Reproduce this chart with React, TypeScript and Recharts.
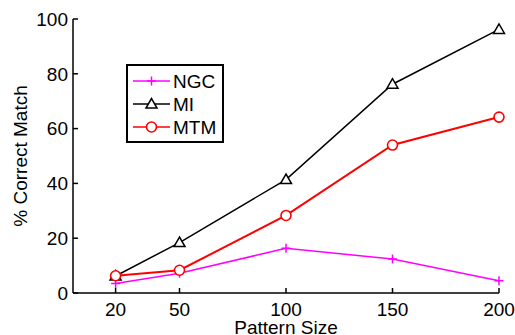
import { LineChart, Line, XAxis, YAxis, Legend } from 'recharts';

const sizes = [20, 50, 100, 150, 200];
const ngc = [3.5, 7.2, 16.3, 12.4, 4.5];
const mi = [6.2, 18.4, 41.4, 76.2, 96.2];
const mtm = [6.3, 8.3, 28.3, 54, 64.2];
const xTicks = [20, 50, 100, 150, 200];
const yTicks = [0, 20, 40, 60, 80, 100];

const series = [
    { key: 'ngc', name: 'NGC', color: '#ff00ff', marker: 'plus' },
    { key: 'mi', name: 'MI', color: '#000000', marker: 'triangle' },
    { key: 'mtm', name: 'MTM', color: '#ff0000', marker: 'circle' },
];

const data = sizes.map((s, i) => ({ size: s, ngc: ngc[i], mi: mi[i], mtm: mtm[i] }));

const FONT = '"Liberation Sans", Arial, sans-serif';

function Marker({ cx, cy, kind, color }: { cx: number; cy: number; kind: string; color: string }) {
    if (kind === 'plus') {
        return <path d={`M${cx - 4.5},${cy}h9M${cx},${cy - 4.5}v9`} stroke={color} strokeWidth={1.5} fill="none" />;
    }
    if (kind === 'triangle') {
        return (
            <polygon
                points={`${cx},${cy - 5.5} ${cx - 5.5},${cy + 4} ${cx + 5.5},${cy + 4}`}
                stroke={color}
                strokeWidth={1.5}
                fill="#fff"
            />
        );
    }
    return <circle cx={cx} cy={cy} r={5} stroke={color} strokeWidth={1.6} fill="#fff" />;
}

function dotFor(kind: string, color: string) {
    return (props: any) => {
        if (props.cx == null || props.cy == null) return <g key={props.index} />;
        return <Marker key={props.index} cx={props.cx} cy={props.cy} kind={kind} color={color} />;
    };
}

function LegendBox() {
    return (
        <svg width={98} height={79} style={{ display: 'block' }}>
            <rect x={1} y={1} width={96} height={77} fill="#fff" stroke="#000" strokeWidth={2} />
            {series.map((s, i) => {
                const y = 17 + i * 23;
                return (
                    <g key={s.key}>
                        <line x1={7} x2={44} y1={y} y2={y} stroke={s.color} strokeWidth={1.5} />
                        <Marker cx={25.5} cy={y} kind={s.marker} color={s.color} />
                        <text x={47} y={y} dy="0.36em" fontSize={19} fontFamily={FONT} fill="#000">
                            {s.name}
                        </text>
                    </g>
                );
            })}
        </svg>
    );
}

export default function App() {
    return (
        <div style={{ position: 'absolute', left: 0, top: 0, width: 515, height: 335, background: '#fff' }}>
            <LineChart
                width={515}
                height={335}
                data={data}
                margin={{ top: 19, right: 16, bottom: 0, left: 0 }}
                style={{ fontFamily: FONT }}
            >
                <XAxis
                    dataKey="size"
                    type="number"
                    domain={[0, 200]}
                    ticks={xTicks}
                    height={42}
                    stroke="#000"
                    strokeWidth={1.5}
                    tickSize={-5}
                    tickMargin={15}
                    tick={{ fill: '#000', fontSize: 19 }}
                    label={{ value: 'Pattern Size', position: 'insideBottom', offset: 1, fill: '#000', fontSize: 19 }}
                />
                <YAxis
                    type="number"
                    domain={[0, 100]}
                    ticks={yTicks}
                    width={73}
                    stroke="#000"
                    strokeWidth={1.5}
                    tickSize={-5}
                    tickMargin={10}
                    tick={{ fill: '#000', fontSize: 19 }}
                    label={{
                        value: '% Correct Match',
                        angle: -90,
                        position: 'insideLeft',
                        offset: 20,
                        fill: '#000',
                        fontSize: 19,
                        style: { textAnchor: 'middle' },
                    }}
                />
                <Legend
                    layout="vertical"
                    align="center"
                    verticalAlign="middle"
                    wrapperStyle={{ left: 126, top: 64, width: 98, height: 79 }}
                    content={() => <LegendBox />}
                />
                {series.map((s) => (
                    <Line
                        key={s.key}
                        dataKey={s.key}
                        name={s.name}
                        stroke={s.color}
                        strokeWidth={s.key === 'mtm' ? 2 : 1.5}
                        dot={dotFor(s.marker, s.color)}
                        activeDot={false}
                        isAnimationActive={false}
                    />
                ))}
            </LineChart>
        </div>
    );
}
